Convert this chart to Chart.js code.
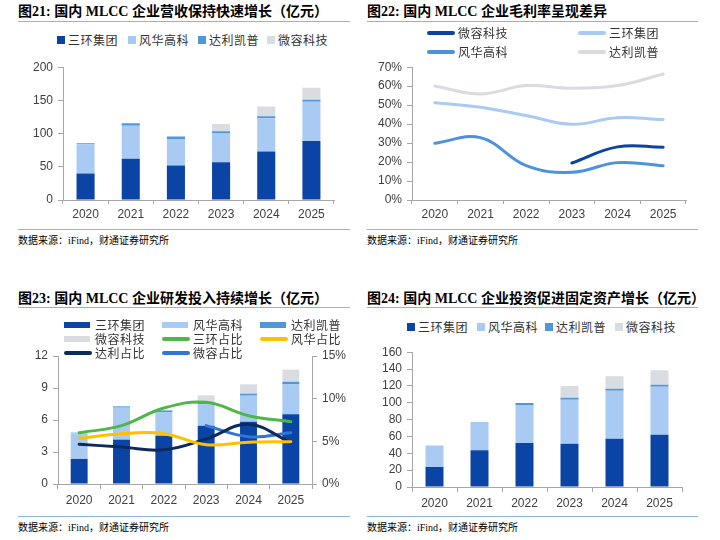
<!DOCTYPE html>
<html><head><meta charset="utf-8">
<script src="https://cdn.jsdelivr.net/npm/chart.js@4.4.1/dist/chart.umd.min.js"></script>
<style>
body{margin:0;width:720px;height:540px;position:relative;background:#fff;overflow:hidden;font-family:"Liberation Sans",Arial,sans-serif;}
.t{position:absolute;font:bold 14px "Liberation Serif","Noto Sans CJK SC";color:#000;white-space:nowrap;line-height:18px;}
.ln{position:absolute;height:0;border-top:1.5px solid #8db3e2;}
.src{position:absolute;font:10px "Liberation Serif","Noto Sans CJK SC";color:#000;white-space:nowrap;line-height:12px;}
canvas{position:absolute;}
.lg{position:absolute;font:12px "Noto Sans CJK SC";color:#333;white-space:nowrap;line-height:14px;letter-spacing:0.5px;}
.mk{position:absolute;}
</style></head><body>
<div class="t" style="left:18px;top:3px">图21: 国内 MLCC 企业营收保持快速增长（亿元）</div>
<div class="ln" style="left:18px;top:21px;width:332px"></div>
<div class="ln" style="left:18px;top:229px;width:332px"></div>
<div class="src" style="left:18px;top:235px">数据来源：iFind，财通证券研究所</div>

<div class="t" style="left:367px;top:3px">图22: 国内 MLCC 企业毛利率呈现差异</div>
<div class="ln" style="left:367px;top:21px;width:331px"></div>
<div class="ln" style="left:367px;top:229px;width:331px"></div>
<div class="src" style="left:367px;top:235px">数据来源：iFind，财通证券研究所</div>

<div class="t" style="left:18px;top:290px">图23: 国内 MLCC 企业研发投入持续增长（亿元）</div>
<div class="ln" style="left:18px;top:307px;width:332px"></div>
<div class="ln" style="left:18px;top:516px;width:332px"></div>
<div class="src" style="left:18px;top:522px">数据来源：iFind，财通证券研究所</div>

<div class="t" style="left:367px;top:290px">图24: 国内 MLCC 企业投资促进固定资产增长（亿元）</div>
<div class="ln" style="left:367px;top:307px;width:331px"></div>
<div class="ln" style="left:367px;top:516px;width:331px"></div>
<div class="src" style="left:367px;top:522px">数据来源：iFind，财通证券研究所</div>

<canvas id="c1" width="350" height="175" style="left:0;top:55px"></canvas>
<canvas id="c2" width="360" height="175" style="left:360px;top:55px"></canvas>
<canvas id="c3" width="360" height="175" style="left:0;top:340px"></canvas>
<canvas id="c4" width="360" height="178" style="left:360px;top:340px"></canvas>
<div id="legends"></div>
<script>
// ---- data ----
const years = ['2020','2021','2022','2023','2024','2025'];
const companies = ['三环集团','风华高科','达利凯普','微容科技'];

const revSanhuan = [40, 62, 52, 57, 73, 89];
const revFenghua = [44, 50, 39, 43, 50, 59];
const revDali    = [1.5, 3.5, 4.5, 3.5, 3, 3];
const revWeirong = [null, null, null, 11, 15, 18];
const revTicks = [0, 50, 100, 150, 200];

const marginWeirong = [null, null, null, 19.5, 28, 27.8];
const marginSanhuan = [51.3, 48.9, 44.5, 39.9, 43.4, 42.4];
const marginFenghua = [29.9, 32.9, 18.1, 14.6, 19.7, 18.1];
const marginDali    = [60.1, 55.9, 60.3, 58.9, 60.3, 66.4];
const marginTicks = [0, 10, 20, 30, 40, 50, 60, 70];

const rdSanhuan = [2.35, 4.16, 4.53, 5.47, 5.84, 6.53];
const rdFenghua = [2.4, 3.0, 2.22, 2.03, 2.44, 2.84];
const rdDali    = [0.06, 0.12, 0.15, 0.12, 0.19, 0.22];
const rdWeirong = [null, null, null, 0.69, 0.87, 1.13];
const ratioSanhuan = [6.0, 6.84, 8.9, 9.57, 8.0, 7.3];
const ratioFenghua = [5.35, 5.9, 5.9, 4.6, 4.9, 4.96];
const ratioDali    = [4.65, 4.34, 4.0, 5.27, 7.0, 4.84];
const ratioWeirong = [null, null, null, 6.84, 5.55, 6.0];
const rdTicks = [0, 3, 6, 9, 12];
const ratioTicks = [0, 5, 10, 15];

const capexSanhuan = [23.7, 43.5, 52.2, 51.4, 57.3, 62];
const capexFenghua = [24.9, 32, 45, 52.2, 56.9, 57];
const capexDali    = [0.3, 1.2, 2.4, 2.3, 2.4, 2.3];
const capexWeirong = [null, null, null, 13.9, 15, 17.4];
const capexTicks = [0, 20, 40, 60, 80, 100, 120, 140, 160];

// ---- styles ----
const C_SH = '#0a45a6', C_FH = '#a9caf2', C_DL = '#5096dc', C_WR = '#d9dce1';
const AX = '#a6a6a6';
const TF = {family:'"Liberation Sans", Arial, sans-serif', size:12};
const TC = '#404040';

function xScale(h, tickLen, pad){
  return {type:'category', offset:true,
    grid:{display:true, drawOnChartArea:false, drawTicks:true, tickLength:tickLen, color:AX, offset:true},
    border:{display:true, color:AX},
    ticks:{font:TF, color:TC, padding:pad, maxRotation:0, autoSkip:false},
    afterFit:s=>{s.height=h;}};
}
function yScale(ticks, w, fmt, pos){
  return {type:'linear', position:pos||'left', min:ticks[0], max:ticks[ticks.length-1],
    afterBuildTicks:s=>{s.ticks=ticks.map(v=>({value:v}));},
    grid:{display:true, drawOnChartArea:false, drawTicks:true, tickLength:5, color:AX},
    border:{display:true, color:AX},
    ticks:{font:TF, color:TC, padding:5, autoSkip:false, callback:v=>fmt?fmt(v):v},
    afterFit:s=>{s.width=w;}};
}
const baseOpts = {responsive:false, animation:false, devicePixelRatio:1,
  plugins:{legend:{display:false}, tooltip:{enabled:false}}};
function bar(label, data, color){
  return {type:'bar', label, data, backgroundColor:color, borderWidth:0, stack:'s', order:2,
    barPercentage:0.5, categoryPercentage:0.8, yAxisID:'y'};
}
function line(label, data, color, yid){
  return {type:'line', label, data, borderColor:color, backgroundColor:color, borderWidth:3,
    pointRadius:0, tension:0.4, fill:false, spanGaps:false, order:1, borderCapStyle:'round',
    yAxisID:yid||'y'};
}

// Chart 21
new Chart(document.getElementById('c1'), {
  type:'bar',
  data:{labels:years, datasets:[bar(companies[0],revSanhuan,C_SH),bar(companies[1],revFenghua,C_FH),bar(companies[2],revDali,C_DL),bar(companies[3],revWeirong,C_WR)]},
  options:Object.assign({}, baseOpts, {layout:{padding:{top:10,right:16,left:0,bottom:0}},
    scales:{x:Object.assign(xScale(30,4,3),{stacked:true}), y:Object.assign(yScale(revTicks,63),{stacked:true})}})
});

// Chart 22
new Chart(document.getElementById('c2'), {
  type:'line',
  data:{labels:years, datasets:[
    line(companies[3],marginWeirong,'#0b44a4'),
    line(companies[0],marginSanhuan,'#a9caf2'),
    line(companies[1],marginFenghua,'#4d92db'),
    line(companies[2],marginDali,'#d9dbdf')]},
  options:Object.assign({}, baseOpts, {layout:{padding:{top:12,right:34,left:0,bottom:0}},
    scales:{x:xScale(30,4,3), y:yScale(marginTicks,52,v=>v+'%')}})
});

// Chart 23
new Chart(document.getElementById('c3'), {
  type:'bar',
  data:{labels:years, datasets:[
    bar(companies[0],rdSanhuan,C_SH),bar(companies[1],rdFenghua,C_FH),bar(companies[2],rdDali,C_DL),bar(companies[3],rdWeirong,C_WR),
    line('三环占比',ratioSanhuan,'#4db848','y2'),
    line('风华占比',ratioFenghua,'#ffc000','y2'),
    line('达利占比',ratioDali,'#0c2a5c','y2'),
    line('微容占比',ratioWeirong,'#2f76d8','y2')]},
  options:Object.assign({}, baseOpts, {layout:{padding:{top:16,right:0,left:0,bottom:0}},
    scales:{x:Object.assign(xScale(31,5,4),{stacked:true}),
      y:Object.assign(yScale(rdTicks,58),{stacked:true}),
      y2:Object.assign(yScale(ratioTicks,48,v=>v+'%','right'),{stacked:false})}})
});

// Chart 24
new Chart(document.getElementById('c4'), {
  type:'bar',
  data:{labels:years, datasets:[bar(companies[0],capexSanhuan,C_SH),bar(companies[1],capexFenghua,C_FH),bar(companies[2],capexDali,C_DL),bar(companies[3],capexWeirong,C_WR)]},
  options:Object.assign({}, baseOpts, {layout:{padding:{top:12,right:38,left:0,bottom:0}},
    scales:{x:Object.assign(xScale(31,5,4),{stacked:true}), y:Object.assign(yScale(capexTicks,52),{stacked:true})}})
});

// ---- HTML legends ----
const L = document.getElementById('legends');
function item(x, y, text, color, kind){
  const m = document.createElement('div'); m.className='mk';
  if(kind==='sq'){ Object.assign(m.style,{left:x+'px',top:(y-4)+'px',width:'8px',height:'8px',background:color}); }
  else if(kind==='box'){ Object.assign(m.style,{left:x+'px',top:(y-3)+'px',width:'26px',height:'6px',background:color}); }
  else { Object.assign(m.style,{left:x+'px',top:(y-2)+'px',width:'28px',height:'4px',background:color,borderRadius:'2px'}); }
  L.appendChild(m);
  const t = document.createElement('div'); t.className='lg'; t.textContent=text;
  const tx = kind==='sq' ? x+11 : x+31;
  Object.assign(t.style,{left:tx+'px',top:(y-7)+'px'});
  L.appendChild(t);
}
const cols4 = [C_SH,C_FH,C_DL,C_WR];
[57,128,198,267].forEach((x,i)=>item(x,40,companies[i],cols4[i],'sq'));
[407,477,545,615].forEach((x,i)=>item(x,327,companies[i],cols4[i],'sq'));
item(427,33,companies[3],'#0b44a4','line');
item(578,33,companies[0],'#a9caf2','line');
item(427,52,companies[1],'#4d92db','line');
item(578,52,companies[2],'#d9dbdf','line');
item(64,325,companies[0],C_SH,'box');
item(162,325,companies[1],C_FH,'box');
item(260,325,companies[2],C_DL,'box');
item(64,339,companies[3],C_WR,'box');
item(162,339,'三环占比','#4db848','line');
item(260,339,'风华占比','#ffc000','line');
item(64,353,'达利占比','#0c2a5c','line');
item(162,353,'微容占比','#2f76d8','line');
</script>
</body></html>
